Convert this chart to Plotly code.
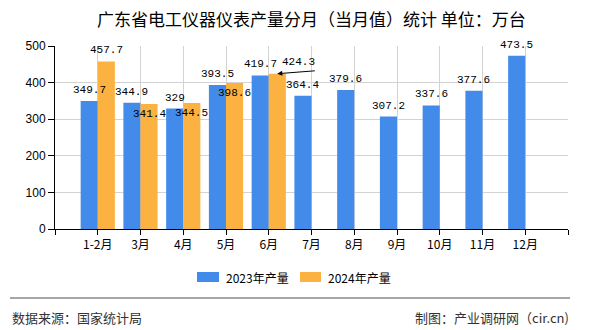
import plotly.graph_objects as go

categories = ["1-2月", "3月", "4月", "5月", "6月", "7月", "8月", "9月", "10月", "11月", "12月"]
values_2023 = [349.7, 344.9, 329, 393.5, 419.7, 364.4, 379.6, 307.2, 337.6, 377.6, 473.5]
values_2024 = [457.7, 341.4, 344.5, 398.6, 424.3]
series_names = ["2023年产量", "2024年产量"]
y_ticks = [0, 100, 200, 300, 400, 500]

BLUE = "#428bea"
ORANGE = "#fbb241"
CJK = "Noto Sans CJK SC"
NUMF = "Liberation Mono"
NUMSIZE = 11

# plot area in pixels
L, R, T, B = 55, 568, 46, 229
W, H = 590, 330


def px(xp):
    return (xp - L) / (R - L)


def py(yp):
    return (B - yp) / (B - T)


idx = list(range(len(categories)))
fig = go.Figure()
fig.add_trace(go.Bar(x=idx, y=values_2023, width=0.4, offset=-0.4,
                     marker=dict(color=BLUE, line=dict(width=0)), name=series_names[0],
                     showlegend=False, hoverinfo="skip"))
fig.add_trace(go.Bar(x=idx[:len(values_2024)], y=values_2024, width=0.4, offset=0.0,
                     marker=dict(color=ORANGE, line=dict(width=0)), name=series_names[1],
                     showlegend=False, hoverinfo="skip"))

numfont = dict(family=NUMF, size=NUMSIZE, color="#000")
ann = []
for i, v in enumerate(values_2023):
    ann.append(dict(x=i - 0.2, y=v, xref="x", yref="y", text=f"{v:g}", showarrow=False,
                    yanchor="bottom", yshift=3, font=numfont))

orange_label_style = ["above", "inside", "inside", "inside", "arrow"]
for i, v in enumerate(values_2024):
    st = orange_label_style[i]
    if st == "above":
        ann.append(dict(x=i + 0.2, y=v, xref="x", yref="y", text=f"{v:g}", showarrow=False,
                        yanchor="bottom", yshift=3, font=numfont))
    elif st == "inside":
        ann.append(dict(x=i + 0.2, y=v, xref="x", yref="y", text=f"{v:g}", showarrow=False,
                        yanchor="top", yshift=-2, font=numfont))
    else:
        ann.append(dict(x=i + 0.2, y=v, xref="x", yref="y", text="", showarrow=True,
                        ax=39, ay=-3, arrowhead=2, arrowsize=1, arrowwidth=1, arrowcolor="#000",
                        standoff=0))
        ann.append(dict(x=i + 0.2, y=v, xref="x", yref="y", text=f"{v:g}", showarrow=False,
                        yanchor="bottom", yshift=4, xshift=21, font=numfont))

# title
ann.append(dict(x=0.5, y=py(18), xref="paper", yref="paper", text="广东省电工仪器仪表产量分月（当月值）统计 单位：万台",
                showarrow=False, xanchor="center", yanchor="middle",
                font=dict(family=CJK, size=17, color="#000")))
# legend text
ann.append(dict(x=px(224), y=py(277), xref="paper", yref="paper", text=series_names[0], showarrow=False,
                xanchor="left", yanchor="middle", font=dict(family=CJK, size=12, color="#000")))
ann.append(dict(x=px(326), y=py(277), xref="paper", yref="paper", text=series_names[1], showarrow=False,
                xanchor="left", yanchor="middle", font=dict(family=CJK, size=12, color="#000")))
# footer
ann.append(dict(x=px(10), y=py(317), xref="paper", yref="paper", text="数据来源：国家统计局", showarrow=False,
                xanchor="left", yanchor="middle", font=dict(family=CJK, size=13, color="#333")))
ann.append(dict(x=px(571), y=py(317), xref="paper", yref="paper", text="制图：产业调研网（cir.cn)", showarrow=False,
                xanchor="right", yanchor="middle", font=dict(family=CJK, size=13, color="#333")))

shapes = [
    dict(type="rect", xref="paper", yref="paper", x0=px(197), x1=px(219), y0=py(272), y1=py(282),
         fillcolor=BLUE, line=dict(width=0)),
    dict(type="rect", xref="paper", yref="paper", x0=px(300), x1=px(321), y0=py(272), y1=py(282),
         fillcolor=ORANGE, line=dict(width=0)),
    dict(type="line", xref="paper", yref="paper", x0=px(10), x1=px(570), y0=py(298), y1=py(298),
         line=dict(color="#888", width=1.5)),
]

tickvals = [-1] + idx + [len(categories)]
ticktext = [""] + categories + [""]

fig.update_layout(
    width=W, height=H, margin=dict(l=L, r=W - R, t=T, b=H - B),
    paper_bgcolor="white", plot_bgcolor="white",
    barmode="overlay", annotations=ann, shapes=shapes, showlegend=False,
    xaxis=dict(range=[-1, len(categories)], tickvals=tickvals, ticktext=ticktext,
               showgrid=True, gridcolor="#d3d3d3", gridwidth=1,
               showline=True, linecolor="#000", linewidth=1,
               ticks="outside", ticklen=5, tickcolor="#000",
               tickfont=dict(family=CJK, size=12, color="#000"), zeroline=False, fixedrange=True),
    yaxis=dict(range=[0, 500], tickvals=y_ticks, showgrid=True, gridcolor="#d3d3d3", gridwidth=1,
               showline=True, linecolor="#000", linewidth=1,
               ticks="outside", ticklen=6, tickcolor="#000",
               tickfont=dict(family="Liberation Sans", size=12, color="#000"), zeroline=False),
)

fig.write_html("out.html")
